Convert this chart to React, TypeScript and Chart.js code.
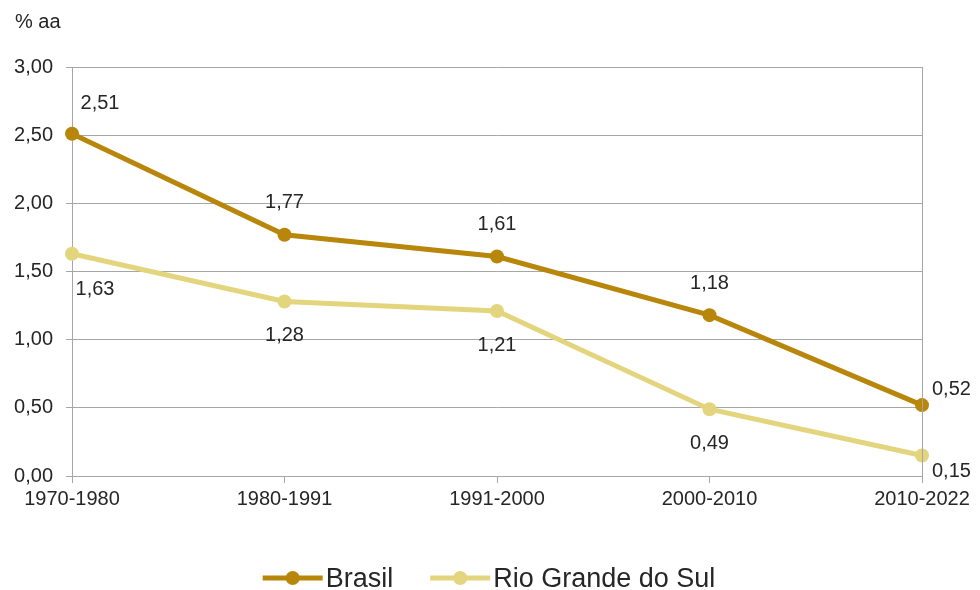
import React, { useEffect, useRef } from 'react';
import { Chart, registerables } from 'chart.js';

Chart.register(...registerables);

const categories = ['1970-1980', '1980-1991', '1991-2000', '2000-2010', '2010-2022'];
const brasil = [2.51, 1.77, 1.61, 1.18, 0.52];
const rioGrandeDoSul = [1.63, 1.28, 1.21, 0.49, 0.15];
const seriesNames = ['Brasil', 'Rio Grande do Sul'];
const yUnit = '% aa';
const yMin = 0;
const yMax = 3;
const yStep = 0.5;

const BRASIL_COLOR = '#b8860b';
const RIO_COLOR = '#e3d57e';
const TEXT_COLOR = '#262626';
const GRID_COLOR = '#a6a6a6';
const FONT = '"Liberation Sans", Arial, sans-serif';

const fmt = (v: number) => v.toFixed(2).replace('.', ',');

const overlayPlugin = {
  id: 'overlay',
  afterDatasetsDraw(chart: any) {
    const ctx = chart.ctx;
    const area = chart.chartArea;
    ctx.save();
    // right border of plot area
    ctx.strokeStyle = GRID_COLOR;
    ctx.lineWidth = 1;
    ctx.beginPath();
    ctx.moveTo(Math.round(area.right) + 0.5, area.top);
    ctx.lineTo(Math.round(area.right) + 0.5, area.bottom);
    ctx.stroke();

    // data labels
    ctx.font = `20px ${FONT}`;
    ctx.fillStyle = TEXT_COLOR;
    ctx.textBaseline = 'middle';
    chart.data.datasets.forEach((ds: any, di: number) => {
      const meta = chart.getDatasetMeta(di);
      const last = ds.data.length - 1;
      meta.data.forEach((pt: any, i: number) => {
        const txt = fmt(ds.data[i]);
        let x = pt.x;
        let y = pt.y;
        let align: CanvasTextAlign = 'center';
        if (di === 0) {
          if (i === 0) { x += 28; y -= 30; }
          else if (i === last) { x += 10; y -= 16; align = 'left'; }
          else { y -= 32; }
        } else {
          if (i === 0) { x += 23; y += 36; }
          else if (i === last) { x += 10; y += 16; align = 'left'; }
          else { y += 34; }
        }
        ctx.textAlign = align;
        ctx.fillText(txt, x, y);
      });
    });

    // unit title
    ctx.textAlign = 'left';
    ctx.textBaseline = 'alphabetic';
    ctx.font = `20px ${FONT}`;
    ctx.fillText(yUnit, 15, 28);

    // legend
    ctx.font = `27px ${FONT}`;
    const colors = [BRASIL_COLOR, RIO_COLOR];
    const lineLen = 60;
    const gapText = 3;
    const gapItem = 37;
    const widths = seriesNames.map((n) => ctx.measureText(n).width);
    const total = widths.reduce((a, w) => a + lineLen + gapText + w, 0) + gapItem * (seriesNames.length - 1);
    let x = 489 - total / 2;
    const ly = 578;
    seriesNames.forEach((name, i) => {
      ctx.strokeStyle = colors[i];
      ctx.lineWidth = 5;
      ctx.beginPath();
      ctx.moveTo(x, ly);
      ctx.lineTo(x + lineLen, ly);
      ctx.stroke();
      ctx.fillStyle = colors[i];
      ctx.beginPath();
      ctx.arc(x + lineLen / 2, ly, 7, 0, Math.PI * 2);
      ctx.fill();
      ctx.fillStyle = TEXT_COLOR;
      ctx.textBaseline = 'alphabetic';
      ctx.fillText(name, x + lineLen + gapText, 587);
      x += lineLen + gapText + widths[i] + gapItem;
    });
    ctx.restore();
  },
};

export default function App() {
  const ref = useRef<HTMLCanvasElement>(null);

  useEffect(() => {
    if (!ref.current) return;
    const chart = new Chart(ref.current, {
      type: 'line',
      data: {
        labels: categories,
        datasets: [
          {
            label: seriesNames[0],
            data: brasil,
            borderColor: BRASIL_COLOR,
            backgroundColor: BRASIL_COLOR,
            pointBackgroundColor: BRASIL_COLOR,
            pointBorderWidth: 0,
            pointRadius: 7,
            pointHoverRadius: 7,
            borderWidth: 5,
            tension: 0,
            clip: false,
          },
          {
            label: seriesNames[1],
            data: rioGrandeDoSul,
            borderColor: RIO_COLOR,
            backgroundColor: RIO_COLOR,
            pointBackgroundColor: RIO_COLOR,
            pointBorderWidth: 0,
            pointRadius: 7,
            pointHoverRadius: 7,
            borderWidth: 5,
            tension: 0,
            clip: false,
          },
        ],
      },
      options: {
        responsive: false,
        animation: false,
        layout: { padding: { left: 0, right: 58, top: 67, bottom: 0 } },
        plugins: {
          legend: { display: false },
          tooltip: { enabled: false },
        },
        scales: {
          x: {
            offset: false,
            grid: {
              display: true,
              drawOnChartArea: false,
              drawTicks: true,
              tickLength: 7,
              color: GRID_COLOR,
            },
            border: { color: GRID_COLOR },
            ticks: {
              color: TEXT_COLOR,
              font: { size: 20, family: FONT },
              padding: 4,
              maxRotation: 0,
              autoSkip: false,
            },
            afterFit: (scale: any) => { scale.height = 114; },
          },
          y: {
            min: yMin,
            max: yMax,
            grid: { color: GRID_COLOR, tickLength: 6 },
            border: { color: GRID_COLOR },
            ticks: {
              stepSize: yStep,
              color: TEXT_COLOR,
              font: { size: 20, family: FONT },
              padding: 13,
              callback: (v: any) => fmt(Number(v)),
            },
            afterFit: (scale: any) => { scale.width = 72; },
          },
        },
      },
      plugins: [overlayPlugin],
    } as any);
    return () => chart.destroy();
  }, []);

  return (
    <div style={{ position: 'absolute', left: 0, top: 0, width: 980, height: 590, background: '#fff' }}>
      <canvas ref={ref} width={980} height={590} />
    </div>
  );
}
